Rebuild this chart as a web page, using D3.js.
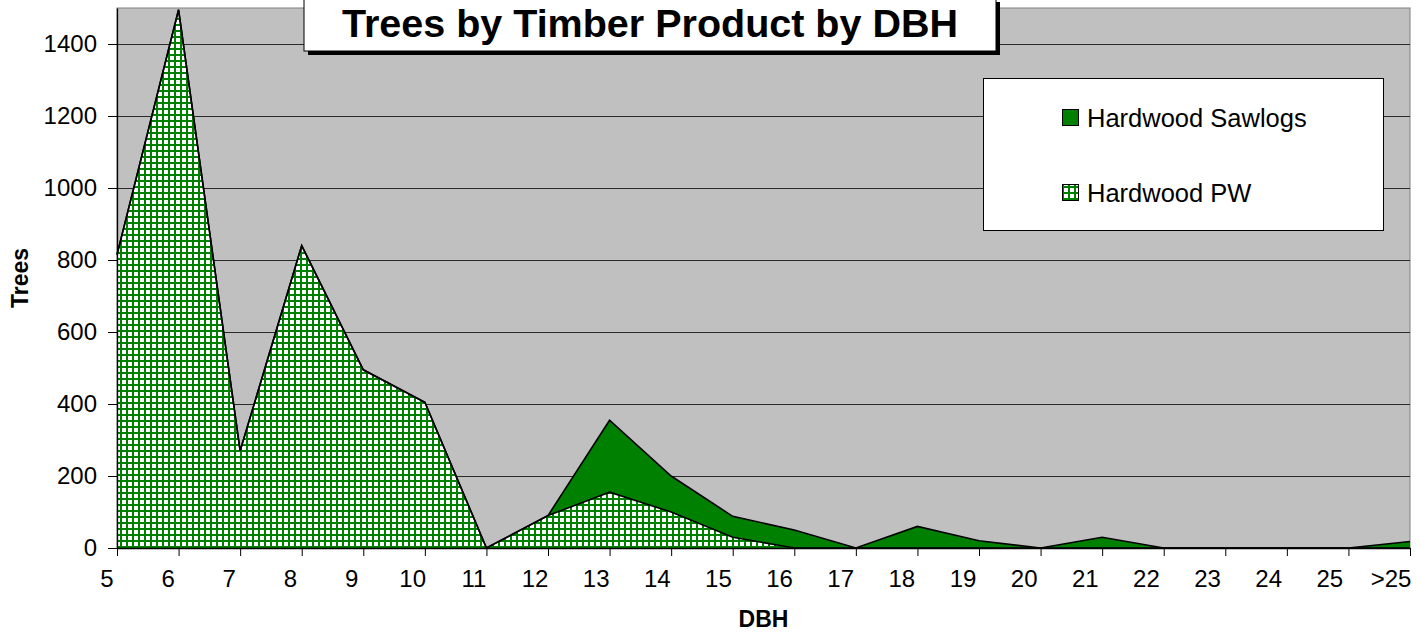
<!DOCTYPE html>
<html>
<head>
<meta charset="utf-8">
<script src="https://cdn.jsdelivr.net/npm/d3@7"></script>
<style>
  html, body { margin: 0; padding: 0; background: #ffffff; }
  svg { display: block; font-family: "Liberation Sans", Arial, sans-serif; }
</style>
</head>
<body>
<svg id="chart" width="1420" height="632"></svg>
<script>
// ---- data ----
const categories = ["5","6","7","8","9","10","11","12","13","14","15","16","17","18","19","20","21","22","23","24","25",">25"];
const pwValues      = [815, 1495, 270, 840, 495, 405, 0, 90, 155, 100, 30, 0, 0, 0, 0, 0, 0, 0, 0, 0, 0, 0];
const sawlogValues  = [0, 0, 0, 0, 0, 0, 0, 0, 200, 100, 58, 50, 0, 60, 20, 0, 30, 0, 0, 0, 0, 18];
const seriesNames   = ["Hardwood PW", "Hardwood Sawlogs"];
const yTickValues   = [0, 200, 400, 600, 800, 1000, 1200, 1400];
const titleText = "Trees by Timber Product by DBH";
const xTitle = "DBH";
const yTitle = "Trees";

// ---- layout ----
const svg = d3.select("#chart");
const plot = { left: 117, right: 1410, top: 8, bottom: 548 };
const fontTick = 24, fontLegend = 25.5, fontAxisTitle = 23, fontTitle = 39.5;
const green = "#008000";

const x = d3.scalePoint().domain(categories).range([plot.left, plot.right]);
const xLabel = d3.scalePoint().domain(categories).range([107, 1391]);
const y = d3.scaleLinear().domain([0, 1500]).range([plot.bottom, plot.top]);

// hatch pattern
const defs = svg.append("defs");
const pat = defs.append("pattern").attr("id", "hatch")
  .attr("patternUnits", "userSpaceOnUse").attr("width", 6).attr("height", 6);
pat.append("rect").attr("width", 6).attr("height", 6).attr("fill", "#ffffff");
pat.append("rect").attr("x", 0).attr("y", 0).attr("width", 2).attr("height", 6).attr("fill", green);
pat.append("rect").attr("x", 0).attr("y", 0).attr("width", 6).attr("height", 2).attr("fill", green);

// plot background
svg.append("rect")
  .attr("x", plot.left).attr("y", plot.top)
  .attr("width", plot.right - plot.left).attr("height", plot.bottom - plot.top)
  .attr("fill", "#C0C0C0").attr("stroke", "#808080").attr("stroke-width", 1);

// gridlines
svg.append("g").selectAll("line")
  .data(yTickValues.filter(v => v > 0))
  .join("line")
  .attr("x1", plot.left).attr("x2", plot.right)
  .attr("y1", d => Math.round(y(d)) + 0.5).attr("y2", d => Math.round(y(d)) + 0.5)
  .attr("stroke", "#2a2a2a").attr("stroke-width", 1);

// stacked data
const table = categories.map((c, i) => ({ cat: c, pw: pwValues[i], saw: sawlogValues[i] }));
const stack = d3.stack().keys(["pw", "saw"]);
const layers = stack(table);

const area = d3.area()
  .x(d => x(d.data.cat))
  .y0(d => y(d[0]))
  .y1(d => y(d[1]));
const topLine = d3.line()
  .x(d => x(d.data.cat))
  .y(d => y(d[1]));

const fills = { pw: "url(#hatch)", saw: green };
svg.append("g").selectAll("path.area")
  .data(layers)
  .join("path")
  .attr("class", "area")
  .attr("d", area)
  .attr("fill", d => fills[d.key])
  .attr("stroke", "none");

svg.append("g").selectAll("path.line")
  .data(layers)
  .join("path")
  .attr("class", "line")
  .attr("d", topLine)
  .attr("fill", "none")
  .attr("stroke", "#000")
  .attr("stroke-width", 1.6)
  .attr("stroke-linejoin", "miter");

// y axis
const yAxis = svg.append("g")
  .attr("transform", `translate(${plot.left},0)`)
  .call(d3.axisLeft(y).tickValues(yTickValues).tickFormat(d3.format("d"))
    .tickSize(9).tickPadding(11).tickSizeOuter(0));
yAxis.select(".domain").attr("stroke", "#000").attr("stroke-width", 1.3);
yAxis.selectAll(".tick line").attr("stroke", "#000");
yAxis.selectAll("text").attr("font-size", fontTick).attr("fill", "#000")
  .attr("font-family", "Liberation Sans, Arial, sans-serif");

// x axis
const xAxis = svg.append("g")
  .attr("transform", `translate(0,${plot.bottom})`)
  .call(d3.axisBottom(x).tickSize(8).tickFormat("").tickSizeOuter(0));
xAxis.select(".domain").attr("stroke", "#000").attr("stroke-width", 1.3);
xAxis.selectAll(".tick line").attr("stroke", "#000");

svg.append("g").selectAll("text")
  .data(categories)
  .join("text")
  .attr("x", d => xLabel(d))
  .attr("y", 587)
  .attr("text-anchor", "middle")
  .attr("font-size", fontTick)
  .attr("fill", "#000")
  .text(d => d);

// axis titles
svg.append("text")
  .attr("x", (plot.left + plot.right) / 2).attr("y", 627)
  .attr("text-anchor", "middle").attr("font-weight", "bold")
  .attr("font-size", fontAxisTitle).text(xTitle);
svg.append("text")
  .attr("transform", `translate(28,${(plot.top + plot.bottom) / 2}) rotate(-90)`)
  .attr("text-anchor", "middle").attr("font-weight", "bold")
  .attr("font-size", fontAxisTitle).text(yTitle);

// title box
const tb = { x: 304, y: -2, w: 692, h: 53 };
svg.append("rect").attr("x", tb.x + 4).attr("y", tb.y + 4).attr("width", tb.w).attr("height", tb.h).attr("fill", "#000");
svg.append("rect").attr("x", tb.x).attr("y", tb.y).attr("width", tb.w).attr("height", tb.h)
  .attr("fill", "#fff").attr("stroke", "#000").attr("stroke-width", 1);
svg.append("text").attr("x", tb.x + tb.w / 2).attr("y", 37)
  .attr("text-anchor", "middle").attr("font-weight", "bold")
  .attr("font-size", fontTitle).text(titleText);

// legend
const lg = { x: 983, y: 78, w: 400, h: 152 };
svg.append("rect").attr("x", lg.x + 0.5).attr("y", lg.y + 0.5).attr("width", lg.w).attr("height", lg.h)
  .attr("fill", "#fff").attr("stroke", "#000").attr("stroke-width", 1);
const legendItems = [
  { name: seriesNames[1], fill: green, sy: 109, ty: 127 },
  { name: seriesNames[0], fill: "url(#hatch)", sy: 184, ty: 202 }
];
const li = svg.append("g").selectAll("g").data(legendItems).join("g");
li.append("rect").attr("x", 1062.5).attr("y", d => d.sy + 0.5).attr("width", 16).attr("height", 16)
  .attr("fill", d => d.fill).attr("stroke", "#000").attr("stroke-width", 1);
li.append("text").attr("x", 1087).attr("y", d => d.ty)
  .attr("font-size", fontLegend).attr("fill", "#000").text(d => d.name);
</script>
</body>
</html>
